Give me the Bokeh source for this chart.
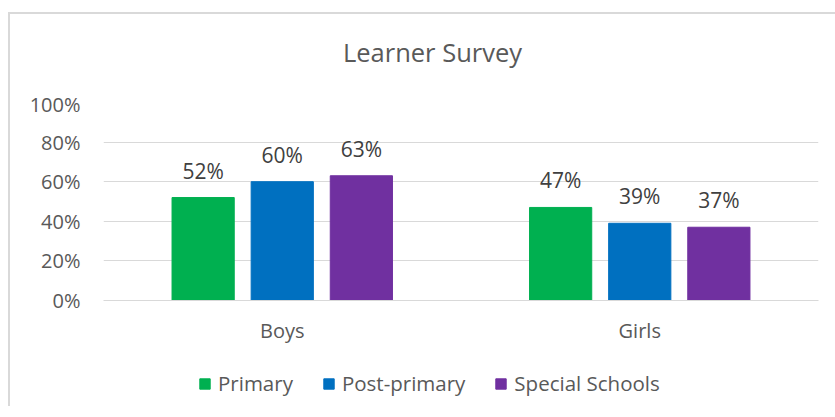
from bokeh.plotting import figure
from bokeh.layouts import column
from bokeh.models import (ColumnDataSource, FactorRange, Range1d, Legend, LegendItem,
                          FixedTicker, NumeralTickFormatter, Div)
from bokeh.transform import dodge
from bokeh.core.properties import value
from bokeh.embed import file_html
from bokeh.resources import INLINE

categories = ["Boys", "Girls"]
series = ["Primary", "Post-primary", "Special Schools"]
primary = [0.52, 0.47]
post_primary = [0.60, 0.39]
special = [0.63, 0.37]
colors = ["#00B050", "#0070C0", "#7030A0"]
y_ticks = [0, 0.2, 0.4, 0.6, 0.8, 1.0]
title_text = "Learner Survey"

FONT = "Open Sans"
TXT = "#595959"
FS = "20px"

title = Div(text=title_text, width=818, height=66,
            styles={"font-family": FONT, "font-size": "25.5px", "color": TXT,
                    "text-align": "center", "line-height": "66px", "text-indent": "17px",
                    "white-space": "nowrap"})

p = figure(x_range=FactorRange(*categories), y_range=Range1d(0, 1),
           width=818, height=256, output_backend="svg", toolbar_location=None,
           min_border_left=93, min_border_right=10, min_border_top=12, min_border_bottom=45)
p.outline_line_color = None
p.background_fill_color = "white"
p.border_fill_color = "white"

p.yaxis.ticker = FixedTicker(ticks=y_ticks)
p.yaxis.formatter = NumeralTickFormatter(format="0%")
p.yaxis.axis_line_color = None
p.yaxis.major_tick_line_color = None
p.yaxis.major_tick_out = 0
p.yaxis.minor_tick_line_color = None
p.yaxis.major_label_standoff = 23
p.yaxis.major_label_text_font = FONT
p.yaxis.major_label_text_font_size = FS
p.yaxis.major_label_text_color = TXT

p.xaxis.axis_line_color = "#D9D9D9"
p.xaxis.major_tick_line_color = None
p.xaxis.major_tick_out = 0
p.xaxis.minor_tick_line_color = None
p.xaxis.major_label_standoff = 16
p.xaxis.major_label_text_font = FONT
p.xaxis.major_label_text_font_size = FS
p.xaxis.major_label_text_color = TXT

p.xgrid.grid_line_color = None
p.ygrid.grid_line_color = "#D9D9D9"
p.ygrid.ticker = FixedTicker(ticks=y_ticks)

offsets = [-0.2213, 0.0, 0.2213]
vals = [primary, post_primary, special]
sources = []
for name, v, c, off in zip(series, vals, colors, offsets):
    src = ColumnDataSource(dict(cat=categories, val=v,
                                lbl=[f"{round(x*100)}%" for x in v]))
    sources.append(src)
    p.vbar(x=dodge("cat", off, range=p.x_range), top="val", width=0.174,
           source=src, fill_color=c, line_color=c)
    p.text(x=dodge("cat", off, range=p.x_range), y="val", text="lbl", source=src,
           text_align="center", text_baseline="alphabetic", y_offset=-27,
           text_font=value(FONT), text_font_size="21px", text_color="#404040")

# legend strip: same series drawn on a range that keeps the bars out of view,
# only their legend swatches are shown
p2 = figure(width=818, height=60, output_backend="svg", toolbar_location=None,
            x_range=FactorRange(*categories), y_range=Range1d(2, 3),
            min_border_left=0, min_border_right=0, min_border_top=14, min_border_bottom=0)
p2.axis.visible = False
p2.grid.grid_line_color = None
p2.outline_line_color = None
items = []
for name, c, src in zip(series, colors, sources):
    r = p2.vbar(x="cat", top="val", width=0.1, source=src, fill_color=c, line_color=c)
    items.append(LegendItem(label=name, renderers=[r]))
legend = Legend(items=items, orientation="horizontal", location=(95, 9),
                glyph_width=13, glyph_height=13, label_standoff=7, spacing=29,
                label_text_font=FONT, label_text_font_size="20.5px", label_text_color=TXT,
                border_line_color=None, background_fill_alpha=0, margin=0, padding=0)
p2.add_layout(legend)

layout = column(title, p, p2, spacing=0,
                styles={"border-left": "2px solid #D9D9D9", "border-top": "2px solid #D9D9D9",
                        "margin-left": "8px", "margin-top": "12px", "background": "white"})

open("out.html", "w").write(file_html(layout, INLINE))
